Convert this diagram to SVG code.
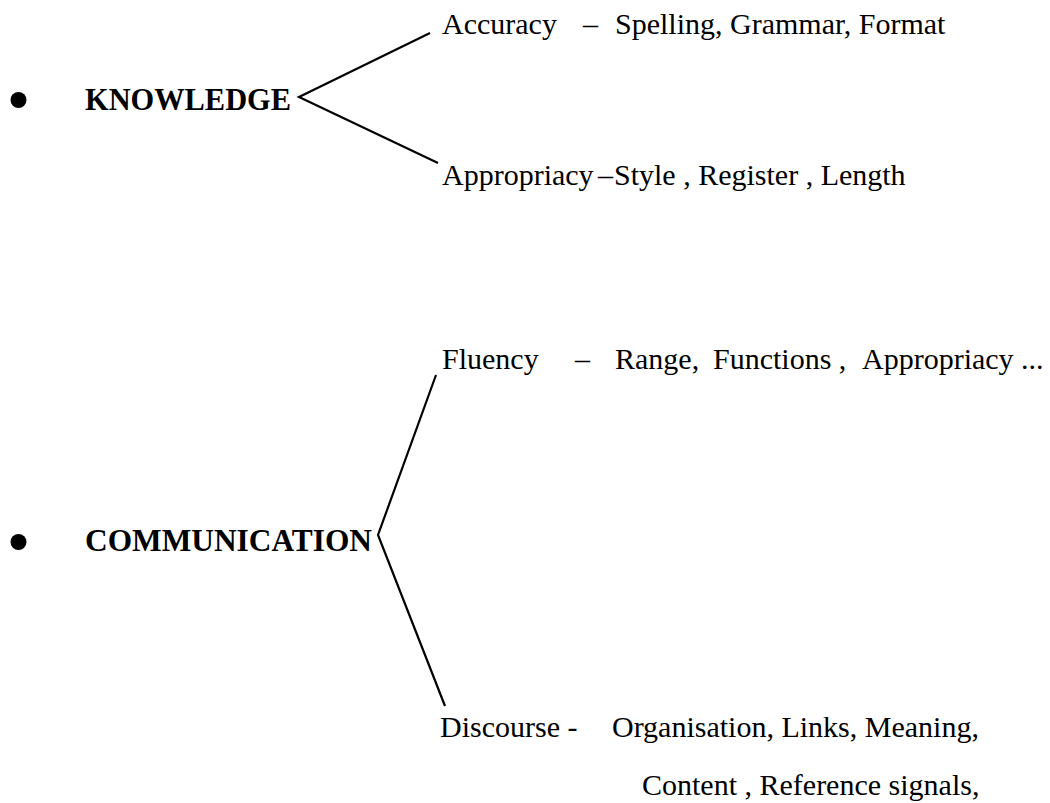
<svg xmlns="http://www.w3.org/2000/svg" width="1050" height="803" viewBox="0 0 1050 803">
<style>
text{font-family:"Liberation Serif","Times New Roman",serif;font-size:30px;fill:#000}
.b{font-weight:bold;font-size:31px}
.ln{fill:none;stroke:#000;stroke-width:2.2;stroke-linejoin:miter}
</style>
<rect width="1050" height="803" fill="#fff"/>
<g id="connectors">
<polyline class="ln" points="430,33 299,97 438,163"/>
<polyline class="ln" points="436,375 378,535 445,706"/>
</g>
<g id="knowledge">
<circle cx="18.5" cy="100" r="8"/>
<text class="b" x="85" y="110" textLength="206" lengthAdjust="spacingAndGlyphs">KNOWLEDGE</text>
</g>
<g id="accuracy">
<text x="442" y="34">Accuracy</text>
<text x="583" y="34">–</text>
<text x="615" y="34">Spelling, Grammar, Format</text>
</g>
<g id="appropriacy">
<text x="442" y="185">Appropriacy</text>
<text x="598" y="185">–</text>
<text x="614" y="185">Style , Register , Length</text>
</g>
<g id="communication">
<circle cx="18.5" cy="542" r="8"/>
<text class="b" x="85" y="551" textLength="287" lengthAdjust="spacingAndGlyphs">COMMUNICATION</text>
</g>
<g id="fluency">
<text x="442" y="369">Fluency</text>
<text x="575" y="369">–</text>
<text x="615" y="369">Range,</text>
<text x="713" y="369">Functions ,</text>
<text x="862" y="369">Appropriacy ...</text>
</g>
<g id="discourse">
<text x="440" y="737">Discourse -</text>
<text x="612" y="737">Organisation, Links, Meaning,</text>
<text x="642" y="795">Content , Reference signals,</text>
</g>
</svg>
